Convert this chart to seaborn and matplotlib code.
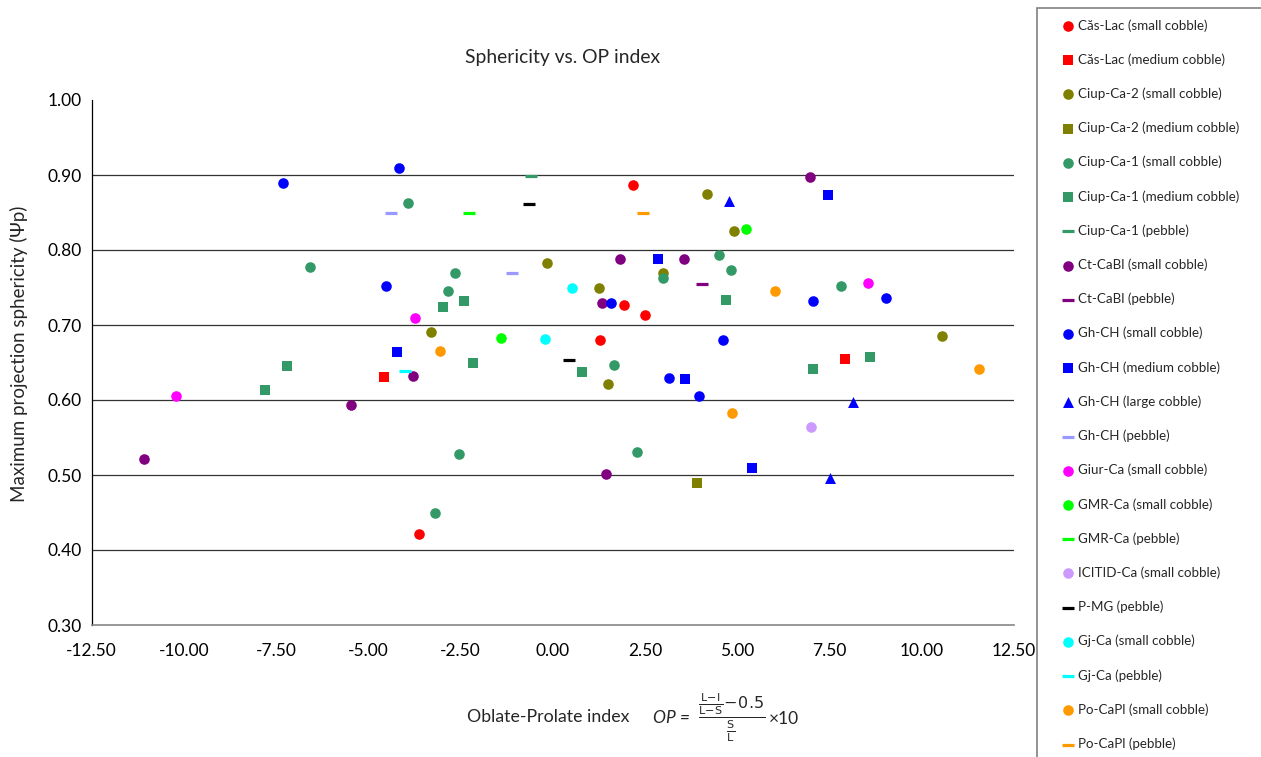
import matplotlib
matplotlib.use("Agg")
import matplotlib.pyplot as plt
from matplotlib.patches import Rectangle
from matplotlib.ticker import FormatStrFormatter
import pandas as pd
import seaborn as sns

# ---------------- data ----------------
cas_small_x = [2.16, 1.92, 2.49, 1.27, -3.63]
cas_small_y = [0.887, 0.727, 0.713, 0.680, 0.421]
cas_medium_x = [-4.58, 7.91]
cas_medium_y = [0.631, 0.655]
ciup2_small_x = [4.17, 4.92, -0.16, 2.98, 1.25, -3.30, 1.50, 10.54]
ciup2_small_y = [0.875, 0.825, 0.783, 0.770, 0.750, 0.691, 0.621, 0.685]
ciup2_medium_x = [3.92]
ciup2_medium_y = [0.490]
ciup1_small_x = [-3.92, -6.58, -2.65, -2.84, 2.98, 4.51, 4.82, 7.82, 1.66, -2.55, 2.27, -3.19]
ciup1_small_y = [0.863, 0.778, 0.770, 0.746, 0.763, 0.793, 0.774, 0.752, 0.647, 0.528, 0.531, 0.449]
ciup1_medium_x = [-7.79, -7.20, -2.99, -2.41, -2.17, 0.79, 4.68, 7.04, 8.61]
ciup1_medium_y = [0.613, 0.645, 0.724, 0.732, 0.649, 0.637, 0.733, 0.641, 0.657]
ciup1_pebble_x = [-0.60]
ciup1_pebble_y = [0.899]
ctcabl_small_x = [-11.09, -5.48, -3.79, 1.32, 1.81, 3.56, 1.44, 6.96]
ctcabl_small_y = [0.522, 0.594, 0.632, 0.729, 0.788, 0.788, 0.501, 0.897]
ctcabl_pebble_x = [4.05]
ctcabl_pebble_y = [0.755]
ghch_small_x = [-7.31, -4.17, -4.53, 1.57, 3.14, 4.61, 3.96, 7.05, 9.02]
ghch_small_y = [0.890, 0.909, 0.752, 0.729, 0.630, 0.680, 0.606, 0.732, 0.736]
ghch_medium_x = [-4.22, 2.84, 3.59, 7.47, 5.39]
ghch_medium_y = [0.664, 0.788, 0.628, 0.873, 0.509]
ghch_large_x = [4.77, 8.14, 7.51]
ghch_large_y = [0.866, 0.597, 0.496]
ghch_pebble_x = [-4.39, -1.12]
ghch_pebble_y = [0.849, 0.769]
giur_small_x = [-10.22, -3.75, 8.55]
giur_small_y = [0.606, 0.710, 0.756]
gmr_small_x = [-1.40, 5.24]
gmr_small_y = [0.682, 0.828]
gmr_pebble_x = [-2.27]
gmr_pebble_y = [0.849]
icitid_small_x = [7.01]
icitid_small_y = [0.564]
pmg_pebble_x = [-0.65, 0.43]
pmg_pebble_y = [0.862, 0.653]
gj_small_x = [0.52, -0.21]
gj_small_y = [0.750, 0.681]
gj_pebble_x = [-4.01]
gj_pebble_y = [0.639]
po_small_x = [-3.07, 6.01, 11.54, 4.85]
po_small_y = [0.666, 0.746, 0.641, 0.583]
po_pebble_x = [2.44]
po_pebble_y = [0.849]

x_ticks = [-12.5, -10.0, -7.5, -5.0, -2.5, 0.0, 2.5, 5.0, 7.5, 10.0, 12.5]
y_ticks = [0.30, 0.40, 0.50, 0.60, 0.70, 0.80, 0.90, 1.00]

series = [
    ("Căs-Lac (small cobble)", cas_small_x, cas_small_y),
    ("Căs-Lac (medium cobble)", cas_medium_x, cas_medium_y),
    ("Ciup-Ca-2 (small cobble)", ciup2_small_x, ciup2_small_y),
    ("Ciup-Ca-2 (medium cobble)", ciup2_medium_x, ciup2_medium_y),
    ("Ciup-Ca-1 (small cobble)", ciup1_small_x, ciup1_small_y),
    ("Ciup-Ca-1 (medium cobble)", ciup1_medium_x, ciup1_medium_y),
    ("Ciup-Ca-1 (pebble)", ciup1_pebble_x, ciup1_pebble_y),
    ("Ct-CaBl (small cobble)", ctcabl_small_x, ctcabl_small_y),
    ("Ct-CaBl (pebble)", ctcabl_pebble_x, ctcabl_pebble_y),
    ("Gh-CH (small cobble)", ghch_small_x, ghch_small_y),
    ("Gh-CH (medium cobble)", ghch_medium_x, ghch_medium_y),
    ("Gh-CH (large cobble)", ghch_large_x, ghch_large_y),
    ("Gh-CH (pebble)", ghch_pebble_x, ghch_pebble_y),
    ("Giur-Ca (small cobble)", giur_small_x, giur_small_y),
    ("GMR-Ca (small cobble)", gmr_small_x, gmr_small_y),
    ("GMR-Ca (pebble)", gmr_pebble_x, gmr_pebble_y),
    ("ICITID-Ca (small cobble)", icitid_small_x, icitid_small_y),
    ("P-MG (pebble)", pmg_pebble_x, pmg_pebble_y),
    ("Gj-Ca (small cobble)", gj_small_x, gj_small_y),
    ("Gj-Ca (pebble)", gj_pebble_x, gj_pebble_y),
    ("Po-CaPl (small cobble)", po_small_x, po_small_y),
    ("Po-CaPl (pebble)", po_pebble_x, po_pebble_y),
]

styles = {
    "Căs-Lac (small cobble)": ("#FF0000", "o"),
    "Căs-Lac (medium cobble)": ("#FF0000", "s"),
    "Ciup-Ca-2 (small cobble)": ("#808000", "o"),
    "Ciup-Ca-2 (medium cobble)": ("#808000", "s"),
    "Ciup-Ca-1 (small cobble)": ("#339966", "o"),
    "Ciup-Ca-1 (medium cobble)": ("#339966", "s"),
    "Ciup-Ca-1 (pebble)": ("#339966", "_"),
    "Ct-CaBl (small cobble)": ("#800080", "o"),
    "Ct-CaBl (pebble)": ("#800080", "_"),
    "Gh-CH (small cobble)": ("#0000FF", "o"),
    "Gh-CH (medium cobble)": ("#0000FF", "s"),
    "Gh-CH (large cobble)": ("#0000FF", "^"),
    "Gh-CH (pebble)": ("#9999FF", "_"),
    "Giur-Ca (small cobble)": ("#FF00FF", "o"),
    "GMR-Ca (small cobble)": ("#00FF00", "o"),
    "GMR-Ca (pebble)": ("#00FF00", "_"),
    "ICITID-Ca (small cobble)": ("#CC99FF", "o"),
    "P-MG (pebble)": ("#000000", "_"),
    "Gj-Ca (small cobble)": ("#00FFFF", "o"),
    "Gj-Ca (pebble)": ("#00FFFF", "_"),
    "Po-CaPl (small cobble)": ("#FF9900", "o"),
    "Po-CaPl (pebble)": ("#FF9900", "_"),
}
sizes = {"o": 58, "s": 52, "^": 62, "_": 75}

# ---------------- figure ----------------
sns.set_theme(style="white")
plt.rcParams["font.family"] = ["Lato", "DejaVu Sans"]
plt.rcParams["mathtext.fontset"] = "dejavusans"

W, H = 1261, 757
fig = plt.figure(figsize=(W / 100, H / 100), dpi=100)
fig.patch.set_facecolor("white")
ax = fig.add_axes([91.7 / W, 1 - 625 / H, (1014 - 91.7) / W, (625 - 100) / H])

for label, xs, ys in series:
    color, marker = styles[label]
    df = pd.DataFrame({"OP": xs, "Psi": ys})
    if marker == "_":
        sns.scatterplot(data=df, x="OP", y="Psi", ax=ax, marker="_", color=color,
                        s=sizes[marker], linewidth=2.3, label=label, zorder=3)
    else:
        sns.scatterplot(data=df, x="OP", y="Psi", ax=ax, marker=marker, color=color,
                        s=sizes[marker], linewidth=0, edgecolor=color, label=label, zorder=3)

ax.set_xlim(-12.5, 12.5)
ax.set_ylim(0.3, 1.0)
ax.set_xticks(x_ticks)
ax.set_yticks(y_ticks)
ax.xaxis.set_major_formatter(FormatStrFormatter("%.2f"))
ax.yaxis.set_major_formatter(FormatStrFormatter("%.2f"))
ax.tick_params(axis="x", direction="out", length=3.6, width=0.8, labelsize=12.5,
               colors="#868686", labelcolor="black", pad=9)
ax.tick_params(axis="y", direction="out", length=4.3, width=0.8, labelsize=12.5,
               colors="black", labelcolor="black", pad=3.2)
ax.yaxis.grid(True, color="#333333", linewidth=0.9)
gl = ax.get_ygridlines()
gl[0].set_visible(False)
gl[-1].set_visible(False)
ax.set_axisbelow(True)
for s in ["top", "right"]:
    ax.spines[s].set_visible(False)
ax.spines["left"].set_color("black")
ax.spines["left"].set_linewidth(0.9)
ax.spines["bottom"].set_color("#868686")
ax.spines["bottom"].set_linewidth(1.2)
ax.set_xlabel("")
ax.set_ylabel("")

# titles and labels
fig.text(563 / W, 1 - 57 / H, "Sphericity vs. OP index", ha="center", va="center", fontsize=13.9)
fig.text(19 / W, 1 - 354 / H, "Maximum projection sphericity (Ψp)", rotation=90,
         ha="center", va="center", fontsize=13.5)
fig.text(467 / W, 1 - 717 / H, "Oblate-Prolate index", ha="left", va="center", fontsize=12.8)
# formula: OP = ((L-I)/(L-S) - 0.5) / (S/L) x 10
fig.text(653 / W, 1 - 718 / H, "OP =", ha="left", va="center", fontsize=12.5, style="italic")
fig.text(732 / W, 1 - 718 / H,
         r"$\dfrac{\frac{\mathrm{L\!-\!I}}{\mathrm{L\!-\!S}}\!-\!0.5}{\frac{\mathrm{S}}{\mathrm{L}}}$",
         ha="center", va="center", fontsize=11.5)
fig.text(769 / W, 1 - 719 / H, "×10", ha="left", va="center", fontsize=12.5)

# legend box (extends beyond the figure edge)
fig.add_artist(Rectangle((1037 / W, -0.2), 0.5, 1.2 - 8 / H, transform=fig.transFigure,
                         fill=False, edgecolor="#808080", linewidth=1.2))
handles, labels = ax.get_legend_handles_labels()
ax.legend(handles, labels, loc="upper left", bbox_to_anchor=(1063 / W, 1 - 19 / H),
          bbox_transform=fig.transFigure, frameon=False, borderpad=0, borderaxespad=0,
          handlelength=0.8, handletextpad=0.3, labelspacing=1.625, fontsize=9.6,
          scatterpoints=1)

fig.savefig("out.png", dpi=100)
